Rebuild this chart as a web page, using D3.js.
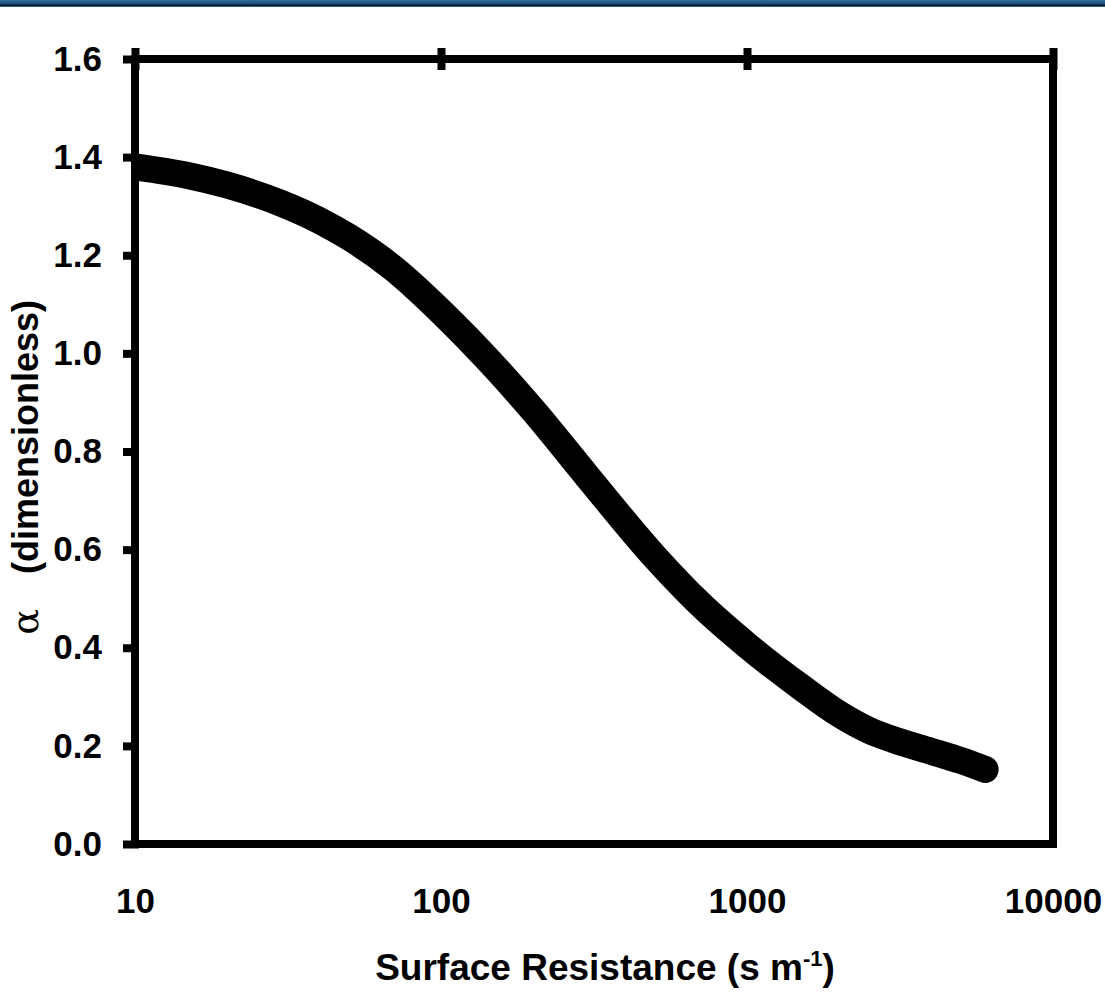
<!DOCTYPE html>
<html>
<head>
<meta charset="utf-8">
<script src="https://cdn.jsdelivr.net/npm/d3@7"></script>
<style>
  body { margin: 0; background: #fff; }
  svg text { font-family: "Liberation Sans", Arial, sans-serif; font-weight: bold; fill: #000; }
</style>
</head>
<body>
<div id="chart"></div>
<script>
// surface resistance (s m-1) and alpha
const resistance = [10, 15, 20, 30, 40, 50, 70, 100, 150, 200, 300, 500, 700, 1000, 1500, 2000, 2500, 3000, 4000, 5000, 6000];
const alpha = [1.38, 1.362, 1.343, 1.306, 1.271, 1.237, 1.173, 1.085, 0.972, 0.884, 0.75, 0.585, 0.49, 0.405, 0.32, 0.265, 0.232, 0.213, 0.189, 0.17, 0.152];

const xTicks = [10, 100, 1000, 10000];
const yTicks = [0, 0.2, 0.4, 0.6, 0.8, 1.0, 1.2, 1.4, 1.6];

const data = resistance.map((r, i) => ({ r: r, a: alpha[i] }));

const margin = { top: 59, right: 52, bottom: 149, left: 135 };
const width = 1105 - margin.left - margin.right;
const height = 993 - margin.top - margin.bottom;

const root = d3.select('#chart').append('svg')
  .attr('width', 1105)
  .attr('height', 993);

const defs = root.append('defs');

// blue banner strip at the very top
const grad = defs.append('linearGradient')
  .attr('id', 'band').attr('x1', 0).attr('y1', 0).attr('x2', 0).attr('y2', 1);
grad.append('stop').attr('offset', '0%').attr('stop-color', '#2f6fa3');
grad.append('stop').attr('offset', '55%').attr('stop-color', '#1d4f7c');
grad.append('stop').attr('offset', '70%').attr('stop-color', '#0b1b2e');
grad.append('stop').attr('offset', '85%').attr('stop-color', '#0b1b2e');
grad.append('stop').attr('offset', '100%').attr('stop-color', '#6c9cc8');
root.append('rect').attr('x', 0).attr('y', 0).attr('width', 1105).attr('height', 7).attr('fill', 'url(#band)');

// curve is cut at the left axis
defs.append('clipPath').attr('id', 'plotclip')
  .append('rect').attr('x', 0).attr('y', -20).attr('width', width + 40).attr('height', height + 40);

const svg = root.append('g')
  .attr('transform', 'translate(' + margin.left + ',' + margin.top + ')');

const x = d3.scaleLog().domain([10, 10000]).range([0, width]);
const y = d3.scaleLinear().domain([0, 1.6]).range([height, 0]);

// left axis, ticks pointing out
svg.append('g')
  .attr('class', 'y-axis')
  .call(d3.axisLeft(y).tickValues(yTicks).tickFormat(d3.format('.1f')).tickSizeInner(12).tickSizeOuter(0).tickPadding(21))
  .call(g => g.select('.domain').remove())
  .call(g => g.selectAll('line').attr('stroke', '#000').attr('stroke-width', 8).attr('x2', -12).attr('x1', 4))
  .selectAll('text')
  .style('font-size', '35px');

// bottom axis labels only
svg.append('g')
  .attr('class', 'x-axis')
  .attr('transform', 'translate(0,' + height + ')')
  .call(d3.axisBottom(x).tickValues(xTicks).tickFormat(d3.format('d')).tickSize(0).tickPadding(44))
  .call(g => g.select('.domain').remove())
  .selectAll('text')
  .style('font-size', '35px');

// top axis with ticks crossing the frame
svg.append('g')
  .attr('class', 'x-top')
  .call(d3.axisTop(x).tickValues(xTicks).tickFormat('').tickSizeOuter(0))
  .call(g => g.select('.domain').remove())
  .call(g => g.selectAll('line').attr('stroke', '#000').attr('stroke-width', 8).attr('y1', 11).attr('y2', -11));

// frame
svg.append('rect')
  .attr('x', 0).attr('y', 0)
  .attr('width', width).attr('height', height)
  .attr('fill', 'none')
  .attr('stroke', '#000')
  .attr('stroke-width', 8);

const line = d3.line()
  .x(d => x(d.r))
  .y(d => y(d.a))
  .curve(d3.curveMonotoneX);

svg.append('path')
  .datum(data)
  .attr('clip-path', 'url(#plotclip)')
  .attr('fill', 'none')
  .attr('stroke', '#000')
  .attr('stroke-width', 27)
  .attr('stroke-linecap', 'round')
  .attr('stroke-linejoin', 'round')
  .attr('d', line);

// axis titles
const xt = root.append('text')
  .attr('x', 605)
  .attr('y', 980)
  .attr('text-anchor', 'middle')
  .style('font-size', '37px');
xt.append('tspan').text('Surface Resistance (s m');
xt.append('tspan').attr('dy', -14).style('font-size', '22px').text('-1');
xt.append('tspan').attr('dy', 14).text(')');

root.append('text')
  .attr('transform', 'translate(38,437) rotate(-90)')
  .attr('text-anchor', 'middle')
  .style('font-size', '36px')
  .text('(dimensionless)');

root.append('text')
  .attr('transform', 'translate(38,622) rotate(-90)')
  .attr('text-anchor', 'middle')
  .style('font-family', '"DejaVu Serif", serif')
  .style('font-weight', 'normal')
  .style('font-size', '38px')
  .text('\u03b1');
</script>
</body>
</html>
